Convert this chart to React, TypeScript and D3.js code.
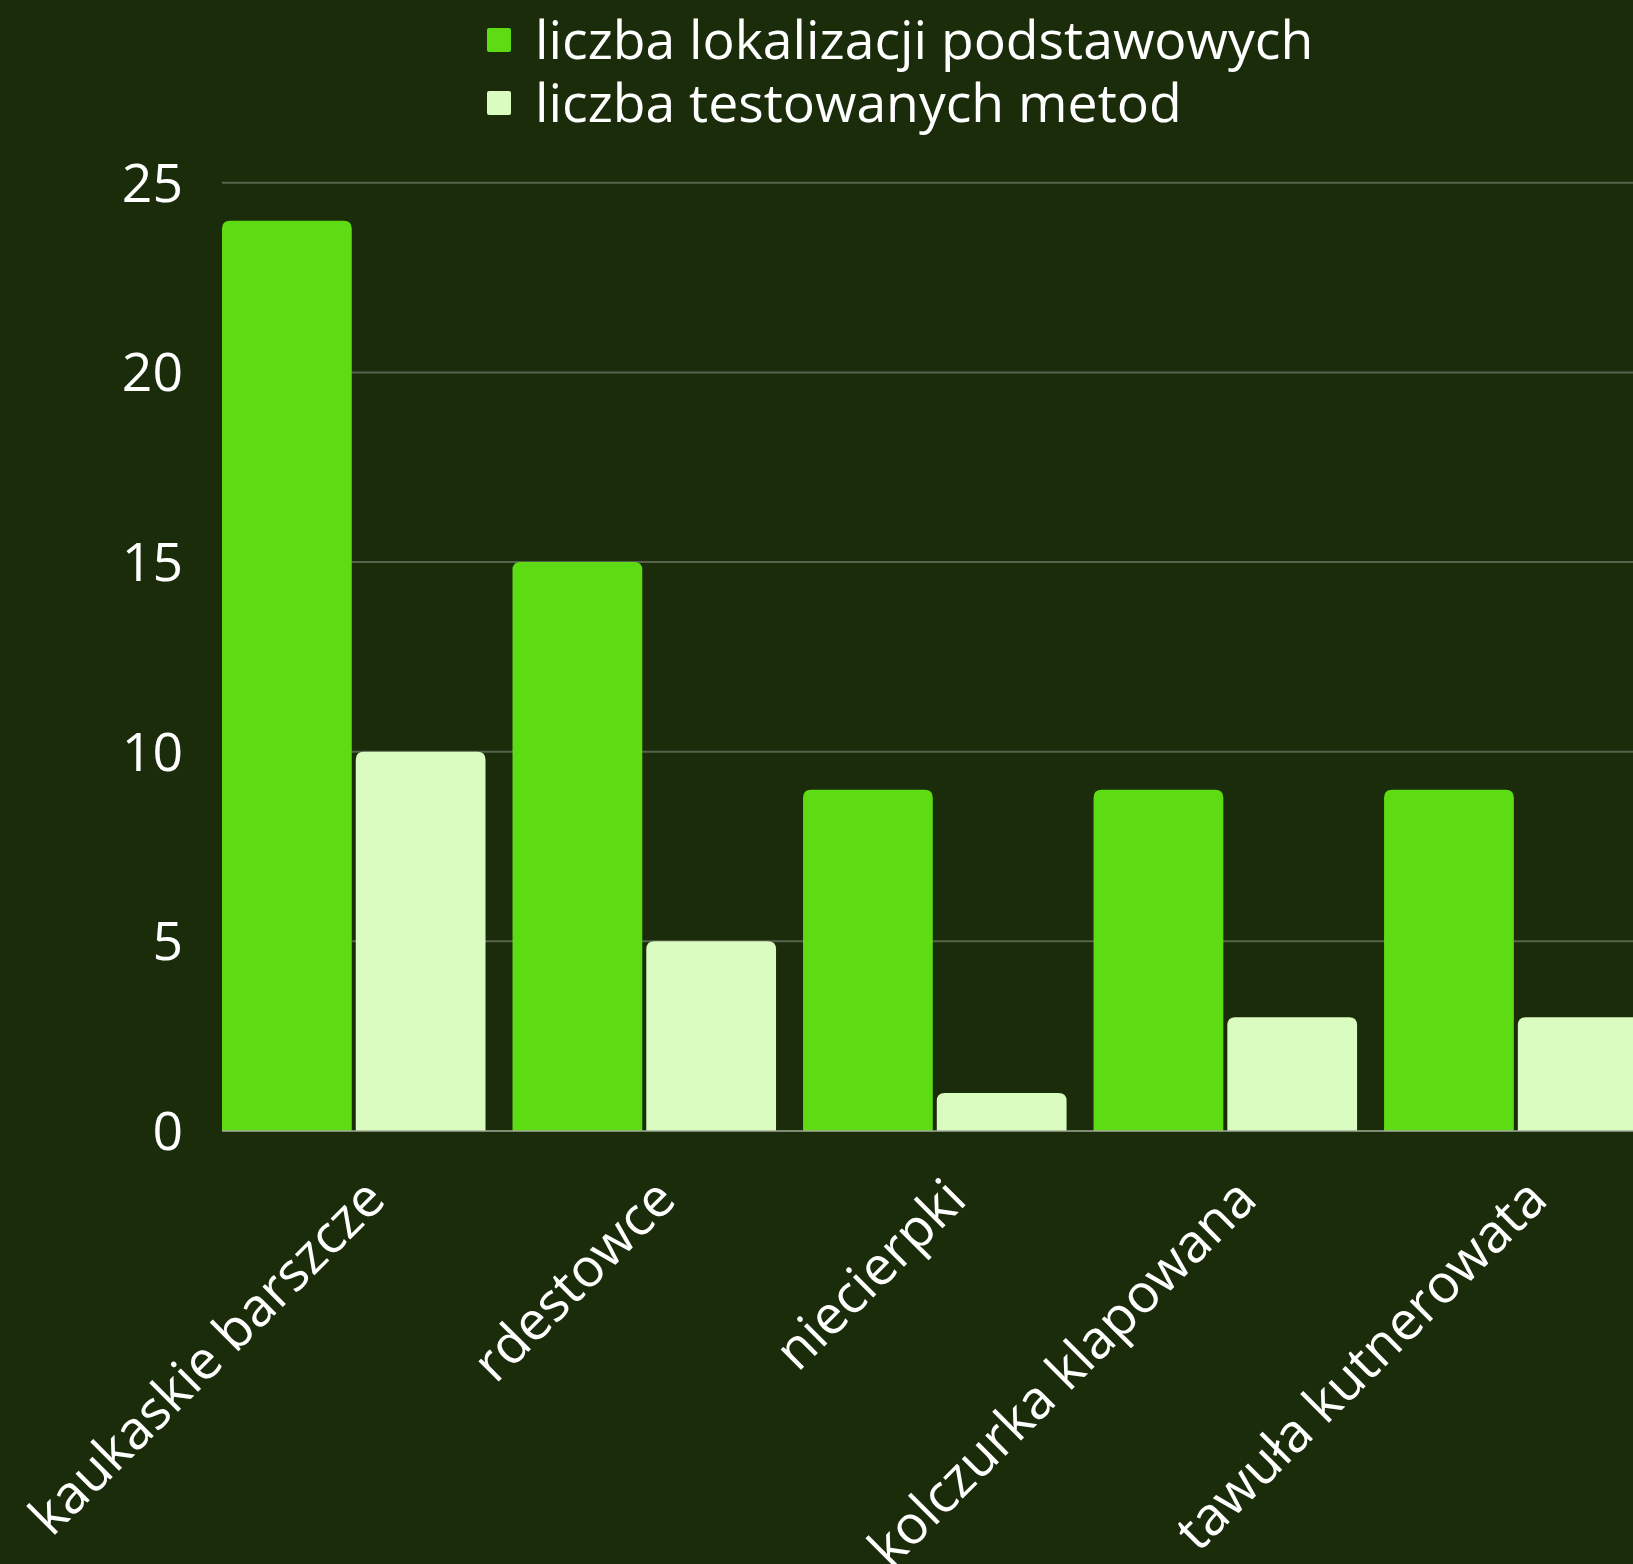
import React from "react";
import * as d3 from "d3";

const categories = [
  "kaukaskie barszcze",
  "rdestowce",
  "niecierpki",
  "kolczurka klapowana",
  "tawuła kutnerowata",
];
const seriesNames = ["liczba lokalizacji podstawowych", "liczba testowanych metod"];
const locations = [24, 15, 9, 9, 9];
const methods = [10, 5, 1, 3, 3];
const yTicks = [0, 5, 10, 15, 20, 25];

const W = 1633;
const H = 1564;
const BG = "#1a2c0a";
const COLORS = ["#5ddc14", "#dafcc0"];
const FONT = "'Open Sans', 'Noto Sans', sans-serif";

function topRoundedRect(x: number, y: number, w: number, h: number, r: number) {
  const rr = Math.min(r, h, w / 2);
  return `M${x},${y + h}V${y + rr}Q${x},${y} ${x + rr},${y}H${x + w - rr}Q${x + w},${y} ${x + w},${y + rr}V${y + h}Z`;
}

export default function App() {
  const x = d3
    .scaleBand<string>()
    .domain(categories)
    .range([222, 1647.6])
    .paddingInner(0.0929)
    .paddingOuter(0);
  const xSub = d3
    .scaleBand<string>()
    .domain(seriesNames)
    .range([0, x.bandwidth()])
    .paddingInner(0.03)
    .paddingOuter(0);
  const y = d3.scaleLinear().domain([0, 25]).range([1131, 182.8]);

  const series = [locations, methods];

  return (
    <svg
      width={W}
      height={H}
      style={{ position: "absolute", left: 0, top: 0, display: "block" }}
      fontFamily={FONT}
    >
      <rect x={0} y={0} width={W} height={H} fill={BG} />
      {yTicks.map((t) =>
        t === 0 ? null : (
          <line
            key={"g" + t}
            x1={222}
            x2={W}
            y1={y(t)}
            y2={y(t)}
            stroke="#56634d"
            strokeWidth={2}
          />
        )
      )}
      {yTicks.map((t) => (
        <text
          key={"t" + t}
          x={183}
          y={y(t) + 19}
          textAnchor="end"
          fill="#ffffff"
          fontSize={53.5}
        >
          {t}
        </text>
      ))}
      {categories.map((c, i) => (
        <g key={c} transform={`translate(${x(c)},0)`}>
          {seriesNames.map((s, j) => {
            const v = series[j][i];
            const bx = xSub(s) as number;
            const by = y(v);
            return (
              <path
                key={s}
                d={topRoundedRect(bx, by, xSub.bandwidth(), y(0) - by, 8)}
                fill={COLORS[j]}
              />
            );
          })}
        </g>
      ))}
      <line x1={222} x2={W} y1={y(0)} y2={y(0)} stroke="#a3ac9b" strokeWidth={1.5} />
      {categories.map((c) => {
        const cx = (x(c) as number) + x.bandwidth() / 2 + 34;
        const cy = 1202;
        return (
          <text
            key={"l" + c}
            transform={`translate(${cx},${cy}) rotate(-45)`}
            textAnchor="end"
            fill="#ffffff"
            fontSize={53.5}
          >
            {c}
          </text>
        );
      })}
      {seriesNames.map((s, j) => (
        <g key={"leg" + s} transform={`translate(487,${28 + j * 63})`}>
          <rect x={0} y={0} width={24} height={24} rx={2} fill={COLORS[j]} />
          <text x={48} y={31} fill="#ffffff" fontSize={53.5}>
            {s}
          </text>
        </g>
      ))}
    </svg>
  );
}
